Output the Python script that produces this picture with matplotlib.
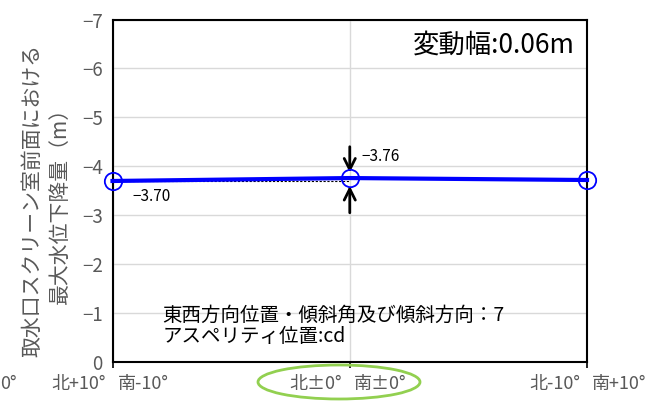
import matplotlib
matplotlib.use('Agg')
import matplotlib.pyplot as plt
from matplotlib.patches import Ellipse

plt.rcParams['font.family'] = ['Noto Sans CJK JP', 'DejaVu Sans']

# データ
x_pos = [0, 1, 2]
values = [-3.70, -3.76, -3.72]
labels_left = ['北+10°', '北±0°', '北-10°']
labels_right = ['南-10°', '南±0°', '南+10°']
y_ticks = [0, -1, -2, -3, -4, -5, -6, -7]
ylabel = '取水口スクリーン室前面における\n最大水位下降量（m）'
range_text = '変動幅:0.06m'
case_text = '東西方向位置・傾斜角及び傾斜方向：7\nアスペリティ位置:cd'

gray = '#595959'

fig = plt.figure(figsize=(6.47, 4.04), dpi=100)
ax = fig.add_axes([0.1739, 0.104, 0.7334, 0.8476])

ax.set_xlim(0, 2)
ax.set_ylim(0, -7)
ax.set_yticks(y_ticks)
ax.set_xticks(x_pos)
ax.set_xticklabels([])
ax.grid(True, color='#d9d9d9', lw=1)
ax.set_axisbelow(True)
for s in ax.spines.values():
    s.set_color('black')
    s.set_linewidth(1.5)
ax.tick_params(axis='y', length=0, pad=7, labelsize=13.5, labelcolor=gray)
ax.tick_params(axis='x', length=4, width=1.2, color='black')

# 折れ線
ax.plot(x_pos, values, color='#0000ff', lw=3, marker='o', markersize=12.5,
        markerfacecolor='none', markeredgecolor='#0000ff', markeredgewidth=1.3,
        clip_on=False, zorder=5)

# 最小値からの点線
ax.plot([x_pos[0], x_pos[1]], [values[0], values[0]], color='black', lw=0.8,
        ls=(0, (2, 1.5)), zorder=4)

# 矢印
ax.annotate('', xy=(1, -3.87), xytext=(1, -4.40),
            arrowprops=dict(arrowstyle='->', lw=2, color='black',
                            mutation_scale=20, shrinkA=0, shrinkB=0))
ax.annotate('', xy=(1, -3.60), xytext=(1, -3.05),
            arrowprops=dict(arrowstyle='->', lw=2, color='black',
                            mutation_scale=20, shrinkA=0, shrinkB=0))

ax.text(1.05, -4.20, '−3.76', fontsize=11, va='center', ha='left')
ax.text(0.085, -3.38, '−3.70', fontsize=11, va='center', ha='left')

ax.text(0.975, 0.925, range_text, transform=ax.transAxes, fontsize=19,
        ha='right', va='center',
        bbox=dict(facecolor='white', edgecolor='none', pad=1))
ax.text(0.105, 0.105, case_text, transform=ax.transAxes, fontsize=14,
        ha='left', va='center', linespacing=1.05)

# y軸ラベル
fig.text(46 / 647, 1 - 200 / 404, ylabel, rotation=90, fontsize=15,
         color=gray, ha='center', va='center', multialignment='center',
         linespacing=1.35)

# x軸ラベル（目盛の左右に分けて表示）
label_y = 1 - 384 / 404
tick_px = [112.5, 349, 587]
for px, lt, rt in zip(tick_px, labels_left, labels_right):
    fig.text((px - 7) / 647, label_y, lt, fontsize=13, color=gray,
             ha='right', va='center')
    fig.text((px + 5) / 647, label_y, rt, fontsize=13, color=gray,
             ha='left', va='center')
fig.text(17 / 647, label_y, '0°', fontsize=13, color=gray,
         ha='right', va='center')

# 中央ラベルの楕円
ell = Ellipse((339 / 647, 1 - 382 / 404), 162 / 647, 34 / 404,
              transform=fig.transFigure, fill=False, edgecolor='#92d050',
              lw=2)
fig.patches.append(ell)

fig.savefig('out.png', dpi=100)
